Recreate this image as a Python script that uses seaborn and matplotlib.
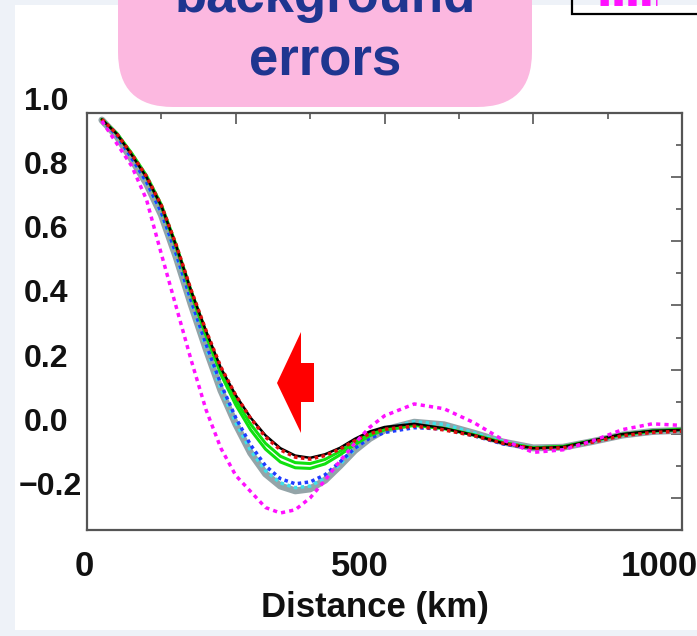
import matplotlib
matplotlib.use('Agg')
import matplotlib.pyplot as plt
import seaborn as sns
import numpy as np
from matplotlib.patches import FancyBboxPatch, Rectangle, Polygon

# distance axis (km) shared by all curves
distance = [25, 50, 75, 100, 125, 150, 175, 200, 225, 250, 275, 300, 325, 350,
            375, 400, 425, 450, 475, 500, 550, 600, 650, 700, 750, 800, 850,
            900, 950, 1000]

# correlation values
black = [0.98, 0.935, 0.87, 0.80, 0.71, 0.585, 0.445, 0.32, 0.205, 0.12, 0.05,
         -0.005, -0.045, -0.068, -0.075, -0.064, -0.044, -0.016, 0.007, 0.021,
         0.031, 0.017, -0.004, -0.03, -0.045, -0.041, -0.021, -0.001, 0.009,
         0.012]
red = [0.98, 0.935, 0.872, 0.802, 0.712, 0.588, 0.448, 0.322, 0.208, 0.12,
       0.048, -0.01, -0.05, -0.073, -0.079, -0.068, -0.048, -0.022, 0.0, 0.014,
       0.024, 0.012, -0.006, -0.03, -0.046, -0.044, -0.026, -0.006, 0.004,
       0.008]
green_1 = [0.98, 0.937, 0.875, 0.805, 0.714, 0.588, 0.446, 0.318, 0.198, 0.105,
           0.03, -0.03, -0.07, -0.09, -0.093, -0.08, -0.055, -0.026, 0.0, 0.016,
           0.028, 0.017, -0.003, -0.028, -0.044, -0.04, -0.022, -0.003, 0.008,
           0.013]
green_2 = [0.98, 0.935, 0.872, 0.80, 0.708, 0.58, 0.436, 0.306, 0.185, 0.09,
           0.012, -0.048, -0.088, -0.106, -0.108, -0.094, -0.066, -0.034,
           -0.006, 0.012, 0.026, 0.016, -0.004, -0.028, -0.044, -0.04, -0.021,
           -0.002, 0.009, 0.014]
blue = [0.978, 0.93, 0.86, 0.785, 0.69, 0.56, 0.415, 0.28, 0.155, 0.05, -0.035,
        -0.1, -0.14, -0.156, -0.15, -0.128, -0.088, -0.045, -0.014, 0.004,
        0.019, 0.015, -0.006, -0.032, -0.046, -0.042, -0.024, -0.004, 0.007,
        0.011]
grey = [0.978, 0.928, 0.856, 0.78, 0.682, 0.55, 0.403, 0.265, 0.135, 0.03,
        -0.06, -0.125, -0.163, -0.178, -0.172, -0.145, -0.1, -0.052, -0.015,
        0.012, 0.036, 0.028, 0.002, -0.026, -0.044, -0.042, -0.024, -0.004,
        0.007, 0.011]
cyan = [0.978, 0.93, 0.858, 0.782, 0.685, 0.553, 0.407, 0.27, 0.14, 0.035,
        -0.052, -0.115, -0.153, -0.168, -0.163, -0.138, -0.095, -0.048, -0.012,
        0.014, 0.038, 0.029, 0.003, -0.025, -0.043, -0.041, -0.023, -0.003,
        0.008, 0.012]
magenta = [0.975, 0.905, 0.835, 0.73, 0.56, 0.395, 0.23, 0.075, -0.045, -0.13,
           -0.18, -0.23, -0.247, -0.237, -0.2, -0.145, -0.085, -0.03, 0.02,
           0.056, 0.093, 0.078, 0.035, -0.02, -0.058, -0.05, -0.022, 0.013,
           0.031, 0.026]

y_ticks = [-0.2, 0.0, 0.2, 0.4, 0.6, 0.8, 1.0]
y_labels = ['\u22120.2', '0.0', '0.2', '0.4', '0.6', '0.8', '1.0']
x_ticks = [0, 500, 1000]
x_labels = ['0', '500', '1000']

sns.set_theme(style='white')
plt.rcParams['font.family'] = ['Liberation Sans', 'DejaVu Sans']

fig = plt.figure(figsize=(6.97, 6.36), dpi=100, facecolor='#eef2f8')
fig.add_artist(Rectangle((15 / 697, 1 - 630 / 636), 1, 625 / 636,
                         transform=fig.transFigure, facecolor='white',
                         edgecolor='none', zorder=-5))

ax = fig.add_axes([87 / 697, 1 - 530 / 636, 595 / 697, 417 / 636])
ax.set_facecolor('white')

lines = [
    (grey, '#94a4a8', 5.0, '-'),
    (cyan, '#3fe0e8', 2.5, (0, (1, 1))),
    (blue, '#1f3cff', 2.5, (0, (1, 1))),
    (green_2, '#10e010', 2.2, '-'),
    (green_1, '#10e010', 2.2, '-'),
    (black, 'black', 1.8, '-'),
    (red, '#e01010', 2.5, (0, (1, 1))),
    (magenta, '#ff10ff', 2.5, (0, (1.2, 1.2))),
]
for values, color, lw, ls in lines:
    sns.lineplot(x=distance, y=values, color=color, linewidth=lw,
                 linestyle=ls, ax=ax)

ax.set_xlim(0, 1000)
ax.set_ylim(-0.3, 1.0)
ax.set_xticks(np.arange(0, 1001, 250))
ax.set_xticks(np.arange(125, 1000, 250), minor=True)
ax.set_yticks(np.arange(-0.2, 1.01, 0.2))
ax.set_yticks(np.arange(-0.3, 1.0, 0.2), minor=True)
ax.tick_params(which='both', direction='in', top=True, right=True,
               labelbottom=False, labelleft=False, color='#555555', width=1.2)
ax.tick_params(which='major', length=8)
ax.tick_params(which='minor', length=4)
for s in ax.spines.values():
    s.set_color('#555555')
    s.set_linewidth(1.6)

# tick labels sit a little off their ticks, as in the slide
y_dx = [-5, -19, -19, -19, -19, -19, -19]
for v, lbl, dx in zip(y_ticks, y_labels, y_dx):
    ax.annotate(lbl, xy=(0, v), xycoords=('axes fraction', 'data'),
                xytext=(dx, 11), textcoords='offset pixels', ha='right',
                va='center', fontsize=23, fontweight='bold', color='#111111')
x_dx = [-3, -25, -23]
for v, lbl, dx in zip(x_ticks, x_labels, x_dx):
    ax.annotate(lbl, xy=(v, 0), xycoords=('data', 'axes fraction'),
                xytext=(dx, -37), textcoords='offset pixels', ha='center',
                va='center', fontsize=25, fontweight='bold', color='#111111')

ax.set_xlabel('Distance (km)', fontsize=25, fontweight='bold', color='#111111')
ax.xaxis.set_label_coords(0.484, -0.185)
ax.xaxis.label.set_va('center')
ax.set_ylabel('')

# slide overlays drawn in pixel space
ov = fig.add_axes([0, 0, 1, 1], zorder=5)
ov.set_xlim(0, 697)
ov.set_ylim(636, 0)
ov.axis('off')
ov.patch.set_alpha(0)

ov.add_patch(FancyBboxPatch((118, -80), 414, 187,
                            boxstyle='round,pad=0,rounding_size=55',
                            facecolor='#fcb8e0', edgecolor='none'))
ov.text(325, 12, 'background', ha='center', va='baseline', fontsize=38,
        fontweight='bold', color='#1f3590')
ov.text(325, 75, 'errors', ha='center', va='baseline', fontsize=38,
        fontweight='bold', color='#1f3590')

ov.add_patch(Polygon([(277, 383), (301, 332), (301, 363), (314, 363),
                      (314, 402), (301, 402), (301, 433)],
                     closed=True, facecolor='red', edgecolor='none'))

# corner of the legend box cut by the slide edge
ov.add_patch(Rectangle((572, -30), 200, 44, fill=False, edgecolor='black',
                       linewidth=1.6))
ov.plot([600, 657], [1.5, 1.5], color='#ff10ff', linewidth=5,
        linestyle=(0, (1.2, 0.8)))

fig.savefig('out.png', dpi=100, facecolor=fig.get_facecolor())
